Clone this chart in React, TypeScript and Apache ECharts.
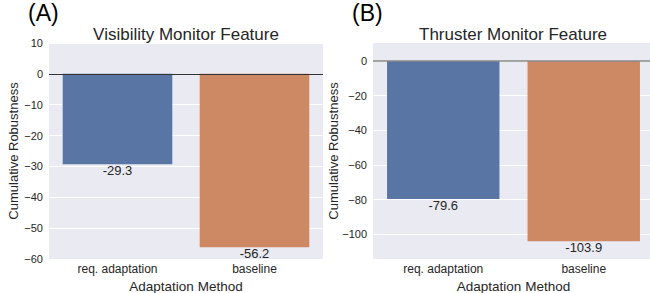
import React, { useEffect, useRef } from "react";
import * as echarts from "echarts";

const categories = ["req. adaptation", "baseline"];
const visibilityValues = [-29.3, -56.2];
const thrusterValues = [-79.6, -103.9];
const barColors = ["#5975a4", "#cc8963"];
const thrusterTicks = [0, -20, -40, -60, -80, -100];
const panelTitles = ["Visibility Monitor Feature", "Thruster Monitor Feature"];
const panelTags = ["(A)", "(B)"];

const FONT = "'Liberation Sans', Arial, sans-serif";
const TEXT = "#262626";
const BG = "#eaeaf2";

const minus = (v: number | string) => String(v).replace("-", "\u2212");

export default function App() {
  const ref = useRef<HTMLDivElement>(null);
  useEffect(() => {
    document.body.style.margin = "0";
    const chart = echarts.init(ref.current!, null, { renderer: "svg" });
    const barData = (vals: number[]) =>
      vals.map((v, i) => ({ value: v, itemStyle: { color: barColors[i] } }));
    const barLabel = {
      show: true,
      position: "bottom",
      distance: 0,
      fontSize: 13,
      color: TEXT,
      fontFamily: FONT,
      formatter: (p: any) => p.value.toFixed(1),
    };
    const xAxisCommon = {
      type: "category",
      data: categories,
      axisLine: { show: false },
      axisTick: { show: false },
      splitLine: { show: false },
      axisLabel: { fontSize: 12, color: TEXT, fontFamily: FONT, margin: 4 },
      name: "Adaptation Method",
      nameLocation: "middle",
      nameGap: 17,
      nameTextStyle: { fontSize: 13.5, lineHeight: 14, color: TEXT, fontFamily: FONT },
    };
    const yName = {
      name: "Cumulative Robustness",
      nameLocation: "middle",
      nameTextStyle: { fontSize: 13, color: TEXT, fontFamily: FONT },
    };
    chart.setOption({
      animation: false,
      textStyle: { fontFamily: FONT },
      title: [
        { text: panelTitles[0], left: 186, top: 26, padding: 0, textAlign: "center",
          textStyle: { fontSize: 17, fontWeight: "normal", color: TEXT, fontFamily: FONT } },
        { text: panelTitles[1], left: 513, top: 26, padding: 0, textAlign: "center",
          textStyle: { fontSize: 17, fontWeight: "normal", color: TEXT, fontFamily: FONT } },
        { text: panelTags[0], left: 28, top: 1, padding: 0,
          textStyle: { fontSize: 23, fontWeight: "normal", color: "#000", fontFamily: FONT } },
        { text: panelTags[1], left: 352, top: 1, padding: 0,
          textStyle: { fontSize: 23, fontWeight: "normal", color: "#000", fontFamily: FONT } },
      ],
      grid: [
        { left: 49, top: 43, width: 274, height: 216, show: true, backgroundColor: BG, borderWidth: 0,
          outerBoundsMode: "none", containLabel: false },
        { left: 373, top: 43, width: 281, height: 216, show: true, backgroundColor: BG, borderWidth: 0,
          outerBoundsMode: "none", containLabel: false },
      ],
      xAxis: [
        { ...xAxisCommon, gridIndex: 0 },
        { ...xAxisCommon, gridIndex: 1 },
      ],
      yAxis: [
        {
          ...yName,
          gridIndex: 0,
          type: "value",
          min: -60,
          max: 10,
          interval: 10,
          nameGap: 28,
          axisLine: { show: false },
          axisTick: { show: false },
          splitLine: { show: true, lineStyle: { color: "#ffffff", width: 1 } },
          axisLabel: { fontSize: 11, color: TEXT, fontFamily: FONT, margin: 6, formatter: (v: number) => minus(v) },
        },
        {
          ...yName,
          gridIndex: 1,
          type: "value",
          min: -114.2,
          max: 10.4,
          nameGap: 33,
          axisLine: { show: false },
          axisTick: { show: false },
          splitLine: { show: false },
          axisLabel: { show: false },
        },
      ],
      series: [
        {
          type: "line",
          xAxisIndex: 1,
          yAxisIndex: 1,
          data: [],
          z: 1,
          silent: true,
          showSymbol: false,
          markLine: {
            silent: true,
            z: 1,
            symbol: ["none", "none"],
            lineStyle: { color: "#ffffff", width: 1, type: "solid" },
            label: {
              show: true,
              position: "start",
              distance: 6,
              fontSize: 11,
              color: TEXT,
              fontFamily: FONT,
              formatter: (p: any) => minus(p.value),
            },
            emphasis: { disabled: true },
            data: thrusterTicks.map((v) => ({ yAxis: v })),
          },
        },
        {
          type: "bar",
          xAxisIndex: 0,
          yAxisIndex: 0,
          z: 2,
          barWidth: "80%",
          data: barData(visibilityValues),
          label: barLabel,
          markLine: {
            silent: true,
            symbol: ["none", "none"],
            lineStyle: { color: "#333333", width: 1.2, type: "solid" },
            label: { show: false },
            emphasis: { disabled: true },
            data: [{ yAxis: 0 }],
          },
        },
        {
          type: "bar",
          xAxisIndex: 1,
          yAxisIndex: 1,
          z: 2,
          barWidth: "80%",
          data: barData(thrusterValues),
          label: barLabel,
          markLine: {
            silent: true,
            symbol: ["none", "none"],
            lineStyle: { color: "#888888", width: 1.5, type: "solid" },
            label: { show: false },
            emphasis: { disabled: true },
            data: [{ yAxis: 0 }],
          },
        },
      ],
    });
    return () => chart.dispose();
  }, []);
  return <div ref={ref} style={{ width: 650, height: 293, overflow: "hidden" }} />;
}
